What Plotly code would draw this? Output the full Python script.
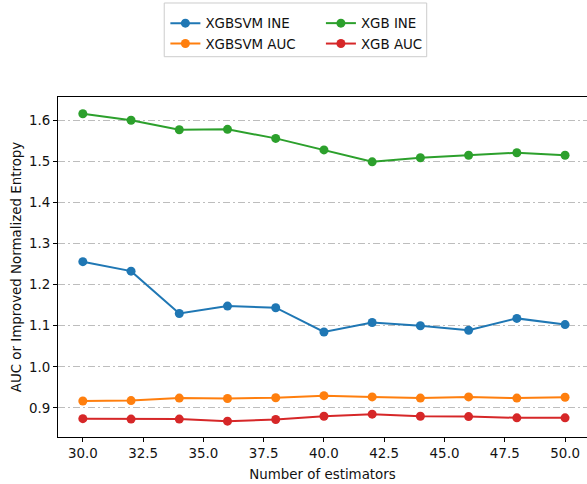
import plotly.graph_objects as go

# Number of estimators evaluated
n_estimators = [30, 32, 34, 36, 38, 40, 42, 44, 46, 48, 50]

# Scores per model
xgbsvm_ine = [1.256, 1.233, 1.130, 1.148, 1.144, 1.085, 1.108, 1.100, 1.089, 1.118, 1.103]
xgbsvm_auc = [0.917, 0.918, 0.924, 0.923, 0.925, 0.930, 0.927, 0.924, 0.927, 0.924, 0.926]
xgb_ine = [1.616, 1.600, 1.577, 1.578, 1.556, 1.528, 1.499, 1.509, 1.515, 1.521, 1.515]
xgb_auc = [0.874, 0.873, 0.873, 0.868, 0.872, 0.880, 0.885, 0.880, 0.879, 0.876, 0.876]

x_ticks = [30.0, 32.5, 35.0, 37.5, 40.0, 42.5, 45.0, 47.5, 50.0]
y_ticks = [0.9, 1.0, 1.1, 1.2, 1.3, 1.4, 1.5, 1.6]

series = [
    ("XGBSVM INE", xgbsvm_ine, "#1f77b4", "legend"),
    ("XGBSVM AUC", xgbsvm_auc, "#ff7f0e", "legend"),
    ("XGB INE", xgb_ine, "#2ca02c", "legend2"),
    ("XGB AUC", xgb_auc, "#d62728", "legend2"),
]

FONT = "DejaVu Sans"
FS = 13.4

fig = go.Figure()
for name, vals, color, leg in series:
    fig.add_trace(go.Scatter(
        x=n_estimators, y=vals, name=name, mode="lines+markers",
        line=dict(color=color, width=2),
        marker=dict(color=color, size=9),
        legend=leg,
    ))

legend_common = dict(
    bgcolor="rgba(0,0,0,0)", borderwidth=0,
    font=dict(family=FONT, size=FS, color="#111"),
    xanchor="left", yanchor="top", orientation="v",
    tracegroupgap=0,
)

fig.update_layout(
    width=587, height=484,
    margin=dict(l=58, r=0, t=97, b=47),
    paper_bgcolor="white", plot_bgcolor="white",
    font=dict(family=FONT, size=FS, color="#111"),
    showlegend=True,
    legend=dict(x=0.203, y=1.262, **legend_common),
    legend2=dict(x=0.497, y=1.262, **legend_common),
    xaxis=dict(
        range=[28.97, 50.91],
        tickvals=x_ticks, tickformat=".1f",
        ticks="outside", ticklen=4, tickwidth=1, tickcolor="#000",
        showline=True, linecolor="#000", linewidth=1, mirror=True,
        showgrid=False, zeroline=False,
        title=dict(text="Number of estimators", font=dict(size=FS), standoff=9),
    ),
    yaxis=dict(
        range=[0.8294, 1.6567],
        tickvals=y_ticks, tickformat=".1f",
        ticks="outside", ticklen=4, tickwidth=1, tickcolor="#000",
        showline=True, linecolor="#000", linewidth=1, mirror=False,
        showgrid=True, gridcolor="#bdbdbd", gridwidth=1,
        griddash="7px,3px,2px,3px",
        zeroline=False,
        title=dict(text="AUC or Improved Normalized Entropy", font=dict(size=FS), standoff=4),
    ),
)

# Frame around the two legend columns
fig.add_shape(
    type="rect", xref="paper", yref="paper",
    x0=0.2008, x1=0.697, y0=1.1185, y1=1.2765,
    line=dict(color="#cccccc", width=1), fillcolor="rgba(255,255,255,0.8)",
    layer="below",
)

fig.write_html("out.html")
